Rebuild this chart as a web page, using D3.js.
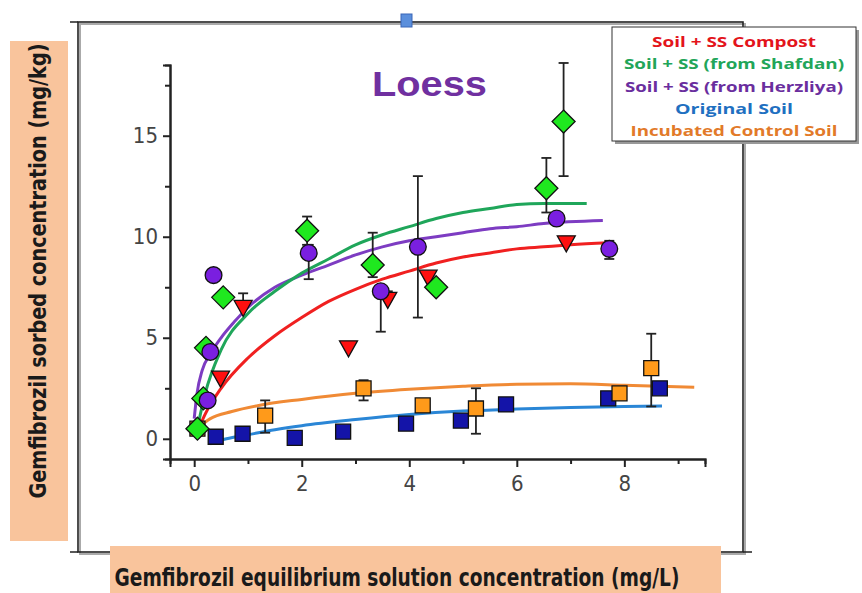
<!DOCTYPE html>
<html>
<head>
<meta charset="utf-8">
<script src="https://cdn.jsdelivr.net/npm/d3@7"></script>
<style>
  body { margin: 0; background: #fff; }
  svg { display: block; }
</style>
</head>
<body>
<div id="chart"></div>
<script>
// ---- data ----
var xTicks = [0, 2, 4, 6, 8];
var xMinor = [1, 3, 5, 7, 9];
var yTicks = [0, 5, 10, 15];
var yMinor = [2.5, 7.5, 12.5, 17.5];

var legendNames = ['Soil + SS Compost', 'Soil + SS (from Shafdan)', 'Soil + SS (from Herzliya)', 'Original Soil', 'Incubated Control Soil'];

// points [x, y]
var compostPts = [[0.91, 6.5], [0.49, 3.0], [2.87, 4.5], [3.6, 6.9], [4.35, 8.0], [6.92, 9.7]];
var shafdanPts = [[0.06, 0.5], [0.17, 2.0], [0.22, 4.5], [0.54, 7.0], [2.1, 10.3], [3.32, 8.6], [4.5, 7.5], [6.55, 12.4], [6.87, 15.7]];
var herzliyaPts = [[0.36, 8.1], [0.3, 4.3], [0.25, 1.9], [2.13, 9.2], [3.47, 7.3], [4.16, 9.5], [6.74, 10.9], [7.72, 9.4]];
var originalPts = [[0.4, 0.1], [0.9, 0.25], [1.87, 0.05], [2.77, 0.35], [3.94, 0.75], [4.96, 0.9], [5.8, 1.7], [7.7, 2.0], [8.66, 2.5]];
var incubatedPts = [[0.06, 0.5], [1.32, 1.15], [3.15, 2.5], [4.25, 1.65], [5.24, 1.5], [7.91, 2.25], [8.5, 3.5]];

// error bars [x, low, high]
var compostErr = [[0.91, 6.5, 7.2], [3.6, 6.9, 7.3], [6.92, 9.7, 10.0]];
var shafdanErr = [[2.1, 9.6, 11.0], [3.32, 8.0, 10.2], [6.55, 11.2, 13.9], [6.87, 13.0, 18.6]];
var herzliyaErr = [[2.13, 7.9, 9.6], [3.47, 5.3, 7.6], [4.16, 6.0, 13.0], [7.72, 8.9, 9.8]];
var originalErr = [];
var incubatedErr = [[1.32, 0.3, 1.9], [3.15, 1.9, 2.9], [5.24, 0.25, 2.5], [8.5, 1.6, 5.2]];

// fitted curves, read as points along each line
var compostFit = [[0.05, 0.3], [0.2, 1.2], [0.5, 2.5], [1, 4.0], [1.5, 5.1], [2, 6.0], [2.5, 6.8], [3, 7.4], [3.5, 7.9], [4, 8.3], [4.5, 8.7], [5, 9.0], [5.5, 9.2], [6, 9.4], [6.5, 9.5], [7, 9.6], [7.7, 9.7]];
var shafdanFit = [[0.05, 0.4], [0.2, 2.2], [0.5, 4.4], [1, 6.2], [1.5, 7.3], [2, 8.2], [2.5, 8.9], [3, 9.6], [3.5, 10.1], [4, 10.5], [4.5, 10.9], [5, 11.2], [5.5, 11.4], [6, 11.6], [6.5, 11.65], [7.3, 11.65]];
var herzliyaFit = [[0.0, 1.0], [0.05, 2.2], [0.15, 3.4], [0.3, 4.2], [0.5, 5.0], [0.75, 5.8], [1, 6.5], [1.5, 7.5], [2, 8.1], [2.5, 8.6], [3, 9.1], [3.5, 9.5], [4, 9.8], [4.5, 10.0], [5, 10.2], [5.5, 10.4], [6, 10.5], [6.5, 10.65], [7.6, 10.8]];
var originalFit = [[0.3, -0.25], [0.6, 0.0], [1, 0.2], [1.5, 0.45], [2, 0.65], [3, 0.95], [4, 1.2], [5, 1.37], [6, 1.47], [7, 1.55], [8, 1.6], [8.7, 1.62]];
var incubatedFit = [[0.05, 0.5], [0.3, 1.0], [0.7, 1.35], [1.2, 1.65], [2, 1.95], [3, 2.25], [4, 2.45], [5, 2.6], [6, 2.7], [7, 2.72], [8, 2.65], [9.3, 2.55]];

var W = 862, H = 593;
var svg = d3.select('#chart').append('svg').attr('width', W).attr('height', H)
    .style('font-family', 'DejaVu Sans, sans-serif');

var x = d3.scaleLinear().domain([-0.45, 9.5]).range([170, 705]);
var y = d3.scaleLinear().domain([-1, 18.5]).range([459, 65]);

// outer frame (the pasted graph object)
var frame = svg.append('g');
frame.append('rect').attr('x', 80).attr('y', 24).attr('width', 665).attr('height', 530)
    .attr('fill', 'none').attr('stroke', '#aaa').attr('stroke-width', 2);
frame.append('rect').attr('x', 78).attr('y', 22).attr('width', 665).attr('height', 530)
    .attr('fill', 'none').attr('stroke', '#222').attr('stroke-width', 1.6);
frame.append('path').attr('d', 'M70,22H78M70,552H78M743,552H752')
    .attr('stroke', '#222').attr('stroke-width', 1.6);
frame.append('rect').attr('x', 401).attr('y', 14).attr('width', 11).attr('height', 13)
    .attr('fill', '#5b8fdc').attr('stroke', '#3a66b8').attr('stroke-width', 1);

// label boxes
svg.append('rect').attr('x', 10).attr('y', 41).attr('width', 58).attr('height', 500).attr('fill', '#f9c49c');
svg.append('rect').attr('x', 110).attr('y', 546).attr('width', 611).attr('height', 47).attr('fill', '#f9c49c');

svg.append('text')
    .attr('transform', 'translate(46,271) rotate(-90)')
    .attr('text-anchor', 'middle')
    .attr('font-family', 'Liberation Sans Narrow, DejaVu Sans Condensed, sans-serif')
    .attr('font-weight', 'bold')
    .attr('font-size', 23)
    .attr('fill', '#1a1a1a')
    .attr('textLength', 455).attr('lengthAdjust', 'spacingAndGlyphs')
    .text('Gemfibrozil sorbed concentration (mg/kg)');

svg.append('text')
    .attr('x', 397).attr('y', 586)
    .attr('text-anchor', 'middle')
    .attr('font-family', 'Liberation Sans Narrow, DejaVu Sans Condensed, sans-serif')
    .attr('font-weight', 'bold')
    .attr('font-size', 24)
    .attr('fill', '#1a1a1a')
    .attr('textLength', 565).attr('lengthAdjust', 'spacingAndGlyphs')
    .text('Gemfibrozil equilibrium solution concentration (mg/L)');

// axes
svg.append('g').attr('transform', 'translate(0,459)')
    .call(d3.axisBottom(x).tickValues(xTicks).tickSize(8).tickPadding(8).tickFormat(d3.format('d')));
svg.append('g').attr('transform', 'translate(0,459)')
    .call(d3.axisBottom(x).tickValues(xMinor).tickSize(5).tickFormat(''));
svg.append('g').attr('transform', 'translate(170,0)')
    .call(d3.axisLeft(y).tickValues(yTicks).tickSize(7).tickPadding(5).tickFormat(d3.format('d')));
svg.append('g').attr('transform', 'translate(170,0)')
    .call(d3.axisLeft(y).tickValues(yMinor).tickSize(5).tickFormat(''));

svg.selectAll('.domain').attr('stroke', '#222').attr('stroke-width', 2);
svg.selectAll('.tick line').attr('stroke', '#222').attr('stroke-width', 2);
svg.selectAll('.tick text')
    .attr('font-family', 'DejaVu Sans Condensed, DejaVu Sans, sans-serif')
    .attr('font-size', 22).attr('fill', '#444');

// title
svg.append('text').attr('x', 372).attr('y', 96)
    .attr('font-family', 'Liberation Sans, Arial, sans-serif')
    .attr('font-weight', 'bold').attr('font-size', 35)
    .attr('fill', '#7030a0')
    .attr('textLength', 115).attr('lengthAdjust', 'spacingAndGlyphs')
    .text('Loess');

// fitted lines
var line = d3.line().x(d => x(d[0])).y(d => y(d[1])).curve(d3.curveMonotoneX);
var fits = [
    [incubatedFit, '#f08a35'],
    [originalFit, '#2a86d6'],
    [compostFit, '#f02020'],
    [herzliyaFit, '#7d3cc2'],
    [shafdanFit, '#1fa65a']
];
fits.forEach(function(f){
    svg.append('path').attr('d', line(f[0]))
        .attr('fill', 'none').attr('stroke', f[1]).attr('stroke-width', 3);
});

// error bars
function errBars(list){
    var g = svg.append('g').attr('stroke', '#222').attr('stroke-width', 1.8);
    list.forEach(function(e){
        g.append('line').attr('x1', x(e[0])).attr('x2', x(e[0])).attr('y1', y(e[1])).attr('y2', y(e[2]));
        g.append('line').attr('x1', x(e[0]) - 5).attr('x2', x(e[0]) + 5).attr('y1', y(e[1])).attr('y2', y(e[1]));
        g.append('line').attr('x1', x(e[0]) - 5).attr('x2', x(e[0]) + 5).attr('y1', y(e[2])).attr('y2', y(e[2]));
    });
}
[incubatedErr, originalErr, compostErr, shafdanErr, herzliyaErr].forEach(errBars);

// markers
function marks(list, shape, fill){
    svg.append('g').selectAll('path').data(list).join('path')
        .attr('transform', d => 'translate(' + x(d[0]) + ',' + y(d[1]) + ')')
        .attr('d', shape)
        .attr('fill', fill).attr('stroke', '#111').attr('stroke-width', 1.3);
}
var sq = 'M-7.5,-7.5H7.5V7.5H-7.5Z';
var tri = 'M-9,-7H9L0,9Z';
var dia = 'M0,-11.5L11.5,0L0,11.5L-11.5,0Z';
var circ = d3.symbol().type(d3.symbolCircle).size(220)();

marks(originalPts, sq, '#1414a8');
marks(incubatedPts, sq, '#ff9a1a');
marks(compostPts, tri, '#ff1010');
marks(shafdanPts, dia, '#1fe81f');
marks(herzliyaPts, circ, '#7a1fe0');

// legend
var lg = svg.append('g');
lg.append('rect').attr('x', 615).attr('y', 30).attr('width', 244).attr('height', 114).attr('fill', '#999');
lg.append('rect').attr('x', 612).attr('y', 27).attr('width', 244).attr('height', 114)
    .attr('fill', '#fff').attr('stroke', '#333').attr('stroke-width', 1);
var legendColors = ['#e3141b', '#22a559', '#6a2e9e', '#1f70c1', '#e27a29'];
var legendWidths = [164, 220, 218, 118, 207];
lg.selectAll('text').data(legendNames).join('text')
    .attr('x', 734).attr('y', (d, i) => 47 + i * 22.3)
    .attr('text-anchor', 'middle')
    .attr('font-family', 'Open Sans, sans-serif').attr('font-weight', 'bold').attr('font-size', 15)
    .attr('fill', (d, i) => legendColors[i])
    .attr('textLength', (d, i) => legendWidths[i]).attr('lengthAdjust', 'spacingAndGlyphs')
    .text(d => d);
</script>
</body>
</html>
